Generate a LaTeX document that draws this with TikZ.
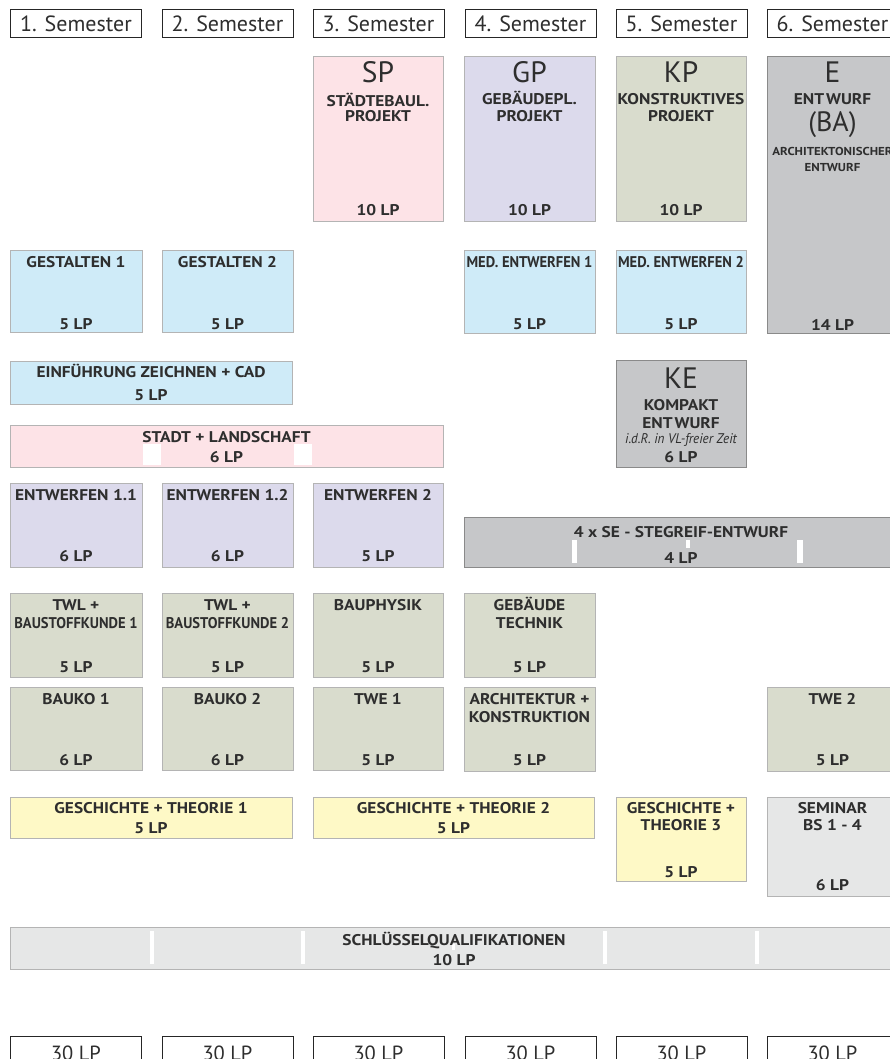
\documentclass[tikz,border=0pt]{standalone}
\usepackage{fontspec}
\setmainfont{PT Sans}
\newfontfamily\lblfam[FakeStretch=1.12]{PT Sans}
\newfontfamily\tightfam[FakeStretch=0.94]{PT Sans}
\definecolor{txt}{HTML}{2E2E2E}
\definecolor{brd}{HTML}{B4B4B4}
\definecolor{brddark}{HTML}{8A8A8A}
\definecolor{pinkc}{HTML}{FDE3E7}
\definecolor{lavc}{HTML}{DCDAEC}
\definecolor{greenc}{HTML}{D9DCCD}
\definecolor{bluec}{HTML}{CFEBF8}
\definecolor{darkgc}{HTML}{C6C7C9}
\definecolor{yellc}{HTML}{FEF9C6}
\definecolor{lightgc}{HTML}{E6E7E7}
\newcommand\modul[6]{\node[modbox,#6,minimum width=#4pt,minimum height=#5pt] (#1) at (#2,#3) {};}
\begin{document}
\begin{tikzpicture}[x=1pt,y=-1pt,
  modbox/.style={draw=brd,line width=1pt,inner sep=0pt,outer sep=0pt,anchor=north west},
  pinkbox/.style={fill=pinkc},
  lavbox/.style={fill=lavc},
  greenbox/.style={fill=greenc},
  bluebox/.style={fill=bluec},
  darkbox/.style={fill=darkgc,draw=brddark},
  yellbox/.style={fill=yellc},
  lightbox/.style={fill=lightgc},
  hdrbox/.style={draw=black!85,line width=1.1pt,fill=white,inner sep=0pt,anchor=north west,minimum width=131pt,minimum height=28pt},
  hdrtxt/.style={anchor=base,inner sep=0pt,text=txt,font=\fontsize{22}{22}\selectfont},
  tottxt/.style={anchor=base,inner sep=0pt,text=txt,font=\fontsize{20.5}{21}\selectfont},
  lbl/.style={anchor=base,inner sep=0pt,text=txt,font=\lblfam\bfseries\fontsize{15.5}{16}\selectfont},
  tight/.style={anchor=base,inner sep=0pt,text=txt,font=\tightfam\bfseries\fontsize{15.5}{16}\selectfont},
  big/.style={anchor=base,inner sep=0pt,text=txt,font=\fontsize{29.5}{30}\selectfont},
  small/.style={anchor=base,inner sep=0pt,text=txt,font=\lblfam\bfseries\fontsize{11.5}{12}\selectfont},
  note/.style={anchor=base,inner sep=0pt,text=txt,font=\tightfam\itshape\fontsize{14}{14}\selectfont},
  gap/.style={fill=white}
]
\useasboundingbox (0,0) rectangle (889,1059);
% headers
\node[hdrbox] (h1) at (10,9) {};
\node[hdrbox] (h2) at (162,9) {};
\node[hdrbox] (h3) at (313,9) {};
\node[hdrbox] (h4) at (465,9) {};
\node[hdrbox] (h5) at (616,9) {};
\node[hdrbox] (h6) at (767,9) {};
\node[hdrtxt] (h1t) at (76,32) {1. Semester};
\node[hdrtxt] (h2t) at (227.5,32) {2. Semester};
\node[hdrtxt] (h3t) at (378.5,32) {3. Semester};
\node[hdrtxt] (h4t) at (530.5,32) {4. Semester};
\node[hdrtxt] (h5t) at (681.5,32) {5. Semester};
\node[hdrtxt] (h6t) at (832.5,32) {6. Semester};
% project boxes
\modul{sp}{313}{57}{130}{165}{pinkbox}
\modul{gp}{464}{57}{131}{165}{lavbox}
\modul{kp}{616}{57}{130}{165}{greenbox}
\modul{e}{767}{57}{131}{276}{darkbox}
\node[big] (spa) at (378,83) {SP};
\node[lbl] (spb) at (378,107) {STÄDTEBAUL.};
\node[lbl] (spc) at (378,122) {PROJEKT};
\node[lbl] (spd) at (378,216) {10 LP};
\node[big] (gpa) at (529.5,83) {GP};
\node[lbl] (gpb) at (529.5,105) {GEBÄUDEPL.};
\node[lbl] (gpc) at (529.5,122) {PROJEKT};
\node[lbl] (gpd) at (529.5,216) {10 LP};
\node[big] (kpa) at (681,83) {KP};
\node[lbl] (kpb) at (681,105) {KONSTRUKTIVES};
\node[lbl] (kpc) at (681,122) {PROJEKT};
\node[lbl] (kpd) at (681,216) {10 LP};
\node[big] (ea) at (832.5,83) {E};
\node[lbl] (eb) at (832.5,105) {ENT\kern2pt WURF};
\node[big,font=\fontsize{28}{28}\selectfont] (ec) at (832.5,132) {(BA)};
\node[small] (ed) at (832.5,156) {ARCHITEKTONISCHER};
\node[small] (ee) at (832.5,172) {ENTWURF};
\node[lbl] (ef) at (832.5,330) {14 LP};
% row 2
\modul{g1}{10}{250}{132}{82}{bluebox}
\modul{g2}{162}{250}{131}{82}{bluebox}
\modul{m1}{464}{250}{131}{83}{bluebox}
\modul{m2}{616}{250}{130}{83}{bluebox}
\node[lbl] (g1a) at (76,267) {GESTALTEN 1};
\node[lbl] (g1b) at (76,329) {5 LP};
\node[lbl] (g2a) at (227.5,267) {GESTALTEN 2};
\node[lbl] (g2b) at (227.5,329) {5 LP};
\node[tight] (m1a) at (529.5,267) {MED. ENTWERFEN 1};
\node[lbl] (m1b) at (529.5,329) {5 LP};
\node[tight] (m2a) at (681,267) {MED. ENTWERFEN 2};
\node[lbl] (m2b) at (681,329) {5 LP};
% Einfuehrung
\modul{ez}{10}{361}{282}{43}{bluebox}
\node[lbl] (eza) at (151,377) {EINFÜHRUNG ZEICHNEN + CAD};
\node[lbl] (ezb) at (151,400) {5 LP};
% KE
\modul{ke}{616}{360}{130}{107}{darkbox}
\node[big] (kea) at (681,388) {KE};
\node[lbl] (keb) at (681,410) {KOMPAKT};
\node[lbl] (kec) at (681,428) {ENT\kern2pt WURF};
\node[note] (ked) at (681,443) {i.d.R. in VL-freier Zeit};
\node[lbl] (kee) at (681,462) {6 LP};
% Stadt
\modul{sl}{10}{425}{433}{42}{pinkbox}
\fill[gap] (143,444) rectangle (161,465);
\fill[gap] (294,444) rectangle (312,465);
\node[lbl] (sla) at (226.5,442) {STADT + LANDSCHAFT};
\node[lbl] (slb) at (226.5,462) {6 LP};
% Entwerfen
\modul{en1}{10}{483}{132}{84}{lavbox}
\modul{en2}{162}{483}{131}{84}{lavbox}
\modul{en3}{313}{483}{130}{84}{lavbox}
\node[lbl] (en1a) at (76,500) {ENTWERFEN 1.1};
\node[lbl] (en1b) at (76,561) {6 LP};
\node[lbl] (en2a) at (227.5,500) {ENTWERFEN 1.2};
\node[lbl] (en2b) at (227.5,561) {6 LP};
\node[lbl] (en3a) at (378,500) {ENTWERFEN 2};
\node[lbl] (en3b) at (378,561) {5 LP};
% Stegreif
\modul{se}{464}{517}{434}{50}{darkbox}
\fill[gap] (572,540) rectangle (577,563);
\fill[gap] (686,540) rectangle (690,548);
\fill[gap] (797,540) rectangle (803,563);
\node[lbl] (sea) at (681,537) {4 x SE - STEGREIF-ENTWURF};
\node[lbl] (seb) at (681,563) {4 LP};
% TWL row
\modul{tw1}{10}{593}{132}{84}{greenbox}
\modul{tw2}{162}{593}{131}{84}{greenbox}
\modul{bp}{313}{593}{130}{84}{greenbox}
\modul{gt}{464}{593}{131}{84}{greenbox}
\node[lbl] (tw1a) at (76,610) {TWL +};
\node[tight] (tw1b) at (76,628) {BAUSTOFFKUNDE 1};
\node[lbl] (tw1c) at (76,672) {5 LP};
\node[lbl] (tw2a) at (227.5,610) {TWL +};
\node[tight] (tw2b) at (227.5,628) {BAUSTOFFKUNDE 2};
\node[lbl] (tw2c) at (227.5,672) {5 LP};
\node[lbl] (bpa) at (378,610) {BAUPHYSIK};
\node[lbl] (bpb) at (378,672) {5 LP};
\node[lbl] (gta) at (529.5,610) {GEBÄUDE};
\node[lbl] (gtb) at (529.5,628) {TECHNIK};
\node[lbl] (gtc) at (529.5,672) {5 LP};
% Bauko row
\modul{bk1}{10}{687}{132}{83}{greenbox}
\modul{bk2}{162}{687}{131}{83}{greenbox}
\modul{twe1}{313}{687}{130}{83}{greenbox}
\modul{ak}{464}{687}{131}{84}{greenbox}
\modul{twe2}{767}{687}{131}{84}{greenbox}
\node[lbl] (bk1a) at (76,704) {BAUKO 1};
\node[lbl] (bk1b) at (76,765) {6 LP};
\node[lbl] (bk2a) at (227.5,704) {BAUKO 2};
\node[lbl] (bk2b) at (227.5,765) {6 LP};
\node[lbl] (twe1a) at (378,704) {TWE 1};
\node[lbl] (twe1b) at (378,765) {5 LP};
\node[lbl] (aka) at (529.5,704) {ARCHITEKTUR +};
\node[lbl] (akb) at (529.5,722) {KONSTRUKTION};
\node[lbl] (akc) at (529.5,765) {5 LP};
\node[lbl] (twe2a) at (832.5,704) {TWE 2};
\node[lbl] (twe2b) at (832.5,765) {5 LP};
% Geschichte row
\modul{gs1}{10}{797}{282}{41}{yellbox}
\modul{gs2}{313}{797}{281}{41}{yellbox}
\modul{gs3}{616}{797}{130}{84}{yellbox}
\modul{sem}{767}{797}{131}{99}{lightbox}
\node[lbl] (gs1a) at (151,813) {GESCHICHTE + THEORIE 1};
\node[lbl] (gs1b) at (151,833) {5 LP};
\node[lbl] (gs2a) at (453.5,813) {GESCHICHTE + THEORIE 2};
\node[lbl] (gs2b) at (453.5,833) {5 LP};
\node[lbl] (gs3a) at (681,813) {GESCHICHTE +};
\node[lbl] (gs3b) at (681,830) {THEORIE 3};
\node[lbl] (gs3c) at (681,877) {5 LP};
\node[lbl] (sema) at (832.5,813) {SEMINAR};
\node[lbl] (semb) at (832.5,830) {BS 1 - 4};
\node[lbl] (semc) at (832.5,890) {6 LP};
% Schluesselqualifikationen
\modul{sq}{10}{927}{888}{42}{lightbox}
\fill[gap] (150,931) rectangle (154,964);
\fill[gap] (301,931) rectangle (305,964);
\fill[gap] (452,944) rectangle (455,950);
\fill[gap] (603,931) rectangle (607,964);
\fill[gap] (755,931) rectangle (759,964);
\node[lbl] (sqa) at (454,945) {SCHLÜSSELQUALIFIKATIONEN};
\node[lbl] (sqb) at (454,965) {10 LP};
% bottom totals
\node[hdrbox,minimum height=32pt] (b1) at (10,1036) {};
\node[hdrbox,minimum height=32pt] (b2) at (162,1036) {};
\node[hdrbox,minimum height=32pt] (b3) at (313,1036) {};
\node[hdrbox,minimum height=32pt] (b4) at (465,1036) {};
\node[hdrbox,minimum height=32pt] (b5) at (616,1036) {};
\node[hdrbox,minimum height=32pt] (b6) at (767,1036) {};
\node[tottxt] (b1t) at (76,1060) {30 LP};
\node[tottxt] (b2t) at (227.5,1060) {30 LP};
\node[tottxt] (b3t) at (378.5,1060) {30 LP};
\node[tottxt] (b4t) at (530.5,1060) {30 LP};
\node[tottxt] (b5t) at (681.5,1060) {30 LP};
\node[tottxt] (b6t) at (832.5,1060) {30 LP};
\end{tikzpicture}
\end{document}
